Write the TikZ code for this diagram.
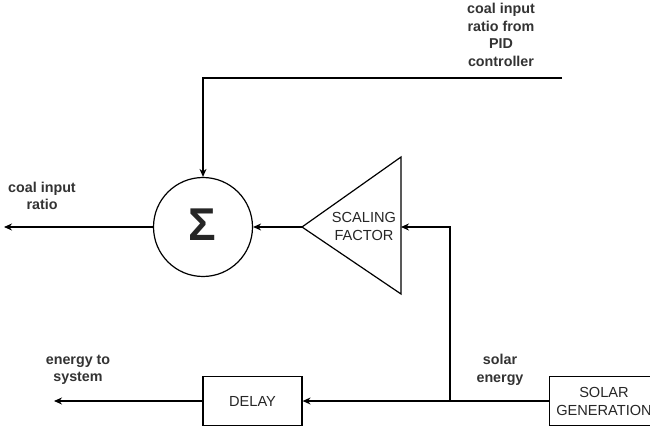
\documentclass[tikz,border=0pt]{standalone}
\usepackage{fontspec}
\setmainfont{Liberation Sans}
\usetikzlibrary{arrows.meta}
\begin{document}
\begin{tikzpicture}[x=1pt,y=-1pt,
  line width=1.2pt,
  arr/.style={-{Stealth[length=8pt,width=7pt]}},
  lbl/.style={align=center,font=\fontsize{14.3}{17.5}\selectfont\bfseries,text=black!80,inner sep=0pt},
  boxtxt/.style={align=center,font=\fontsize{14.6}{18}\selectfont,text=black!85,inner sep=0pt},
  blk/.style={draw,rectangle,minimum width=99pt,minimum height=49pt,inner sep=0pt}]
\clip (0,0) rectangle (650,430);
\fill[white] (0,0) rectangle (650,430);
% summing junction
\node[draw,circle,minimum size=99pt,inner sep=0pt] (sum) at (203,227) {};
\node[font=\fontsize{46}{46}\selectfont\bfseries,text=black!85,inner sep=0pt] (sigma) at (202,225) {Σ};
% scaling factor triangle
\coordinate (tip) at (302,227);
\coordinate (trin) at (401,227);
\draw[line join=miter] (tip) -- (401,157) -- (401,294) -- cycle;
\node[boxtxt] (scaletxt) at (364,226) {SCALING\\FACTOR};
% blocks
\node[blk] (delay) at (252.5,401) {};
\node[boxtxt] (delaytxt) at (252.5,401) {DELAY};
\node[blk,minimum width=103pt] (solar) at (601,401) {};
\node[boxtxt] (solartxt) at (604,401) {SOLAR\\GENERATION};
% PID input
\coordinate (pid) at (562,78);
\node[lbl] (pidlbl) at (501,35) {coal input\\ratio from\\PID\\controller};
\draw[arr] (pid) -| (sum.north);
% coal output
\coordinate (coalout) at (4,227);
\node[lbl] (coallbl) at (42,196) {coal input\\ratio};
\draw[arr] (sum.west) -- (coalout);
% triangle to sum
\draw[arr] (tip) -- (sum.east);
% solar line
\coordinate (branch) at (450,401);
\draw[arr] (solar.west) -- (delay.east);
\draw[arr] (branch) |- (trin);
\node[lbl] (sollbl) at (500,370) {solar\\energy};
% energy to system
\coordinate (eout) at (54,401);
\draw[arr] (delay.west) -- (eout);
\node[lbl] (elbl) at (78,370) {energy to\\system};
\end{tikzpicture}
\end{document}
